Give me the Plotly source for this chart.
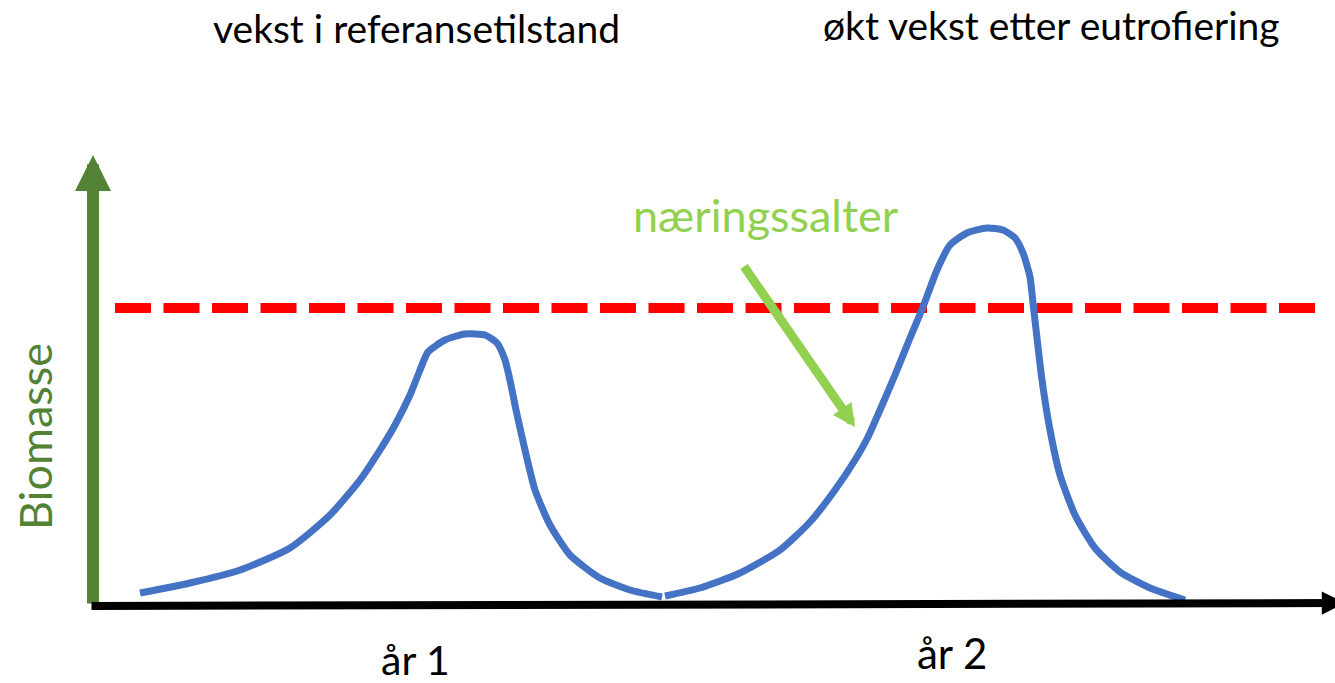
import plotly.graph_objects as go

# Data (x in time units, y biomass units)
year1_x = [140, 190, 240, 290, 330, 360, 380, 395, 410, 420, 428, 445, 465, 485, 497, 505, 511, 516, 525, 535, 550, 570, 600, 630, 662]
year1_y = [90, 100, 113, 135, 168, 203, 233, 258, 288, 313, 331, 343, 349, 348, 340, 323, 298, 273, 233, 193, 158, 128, 105, 93, 86]
year2_x = [665, 700, 740, 780, 810, 835, 855, 868, 880, 895, 910, 923, 937, 950, 967, 987, 1003, 1015, 1023, 1030, 1033, 1037, 1042, 1050, 1060, 1075, 1095, 1120, 1150, 1185]
year2_y = [87, 95, 110, 133, 161, 193, 223, 246, 273, 308, 345, 376, 413, 438, 450, 455, 453, 445, 430, 406, 380, 345, 303, 253, 208, 168, 135, 111, 95, 83]
threshold_x = [115, 1320]
threshold_y = [375, 375]

titles = ["vekst i referansetilstand", "økt vekst etter eutrofiering"]
year_labels = ["år 1", "år 2"]
nutrient_label = "næringssalter"
y_label = "Biomasse"

BLUE = "#4472C4"
RED = "#FF0000"
DGREEN = "#548235"
LGREEN = "#92D050"
FONT = "Lato"

fig = go.Figure()
fig.add_trace(go.Scatter(x=threshold_x, y=threshold_y, mode="lines",
                         line=dict(color=RED, width=10, dash="36px,12.5px"), hoverinfo="skip"))
fig.add_trace(go.Scatter(x=year1_x, y=year1_y, mode="lines",
                         line=dict(color=BLUE, width=7, shape="spline", smoothing=0.6), hoverinfo="skip"))
fig.add_trace(go.Scatter(x=year2_x, y=year2_y, mode="lines",
                         line=dict(color=BLUE, width=7, shape="spline", smoothing=0.6), hoverinfo="skip"))

ann = []
# axes arrows
ann.append(dict(x=93, y=528, ax=93, ay=78, xref="x", yref="y", axref="x", ayref="y",
                showarrow=True, arrowhead=2, arrowwidth=12, arrowsize=0.6, arrowcolor=DGREEN, text=""))
ann.append(dict(x=1345, y=80, ax=90, ay=77, xref="x", yref="y", axref="x", ayref="y",
                showarrow=True, arrowhead=2, arrowwidth=8, arrowsize=0.58, arrowcolor="black", text=""))
ann.append(dict(x=855, y=256, ax=743, ay=418, xref="x", yref="y", axref="x", ayref="y",
                showarrow=True, arrowhead=2, arrowwidth=9, arrowsize=0.5, arrowcolor=LGREEN, text=""))
# texts
ann.append(dict(x=416, y=655, xref="x", yref="y", text=titles[0], showarrow=False,
                font=dict(family=FONT, size=39, color="black")))
ann.append(dict(x=1051, y=658, xref="x", yref="y", text=titles[1], showarrow=False,
                font=dict(family=FONT, size=39, color="black")))
ann.append(dict(x=766, y=468, xref="x", yref="y", text=nutrient_label, showarrow=False,
                font=dict(family=FONT, size=45, color=LGREEN)))
ann.append(dict(x=415, y=24, xref="x", yref="y", text=year_labels[0], showarrow=False,
                font=dict(family=FONT, size=41, color="black")))
ann.append(dict(x=952, y=30, xref="x", yref="y", text=year_labels[1], showarrow=False,
                font=dict(family=FONT, size=42, color="black")))
ann.append(dict(x=35, y=246, xref="x", yref="y", text=y_label, showarrow=False, textangle=-90,
                font=dict(family=FONT, size=45, color=DGREEN)))

fig.update_layout(
    width=1360, height=683, margin=dict(l=0, r=0, t=0, b=0),
    paper_bgcolor="white", plot_bgcolor="white", showlegend=False,
    xaxis=dict(range=[0, 1360], visible=False, fixedrange=True),
    yaxis=dict(range=[0, 683], visible=False, fixedrange=True),
    annotations=ann,
)
fig.write_html("out.html", config={"displayModeBar": False},
               post_script="document.body.style.margin='0';document.body.style.overflow='hidden';")
